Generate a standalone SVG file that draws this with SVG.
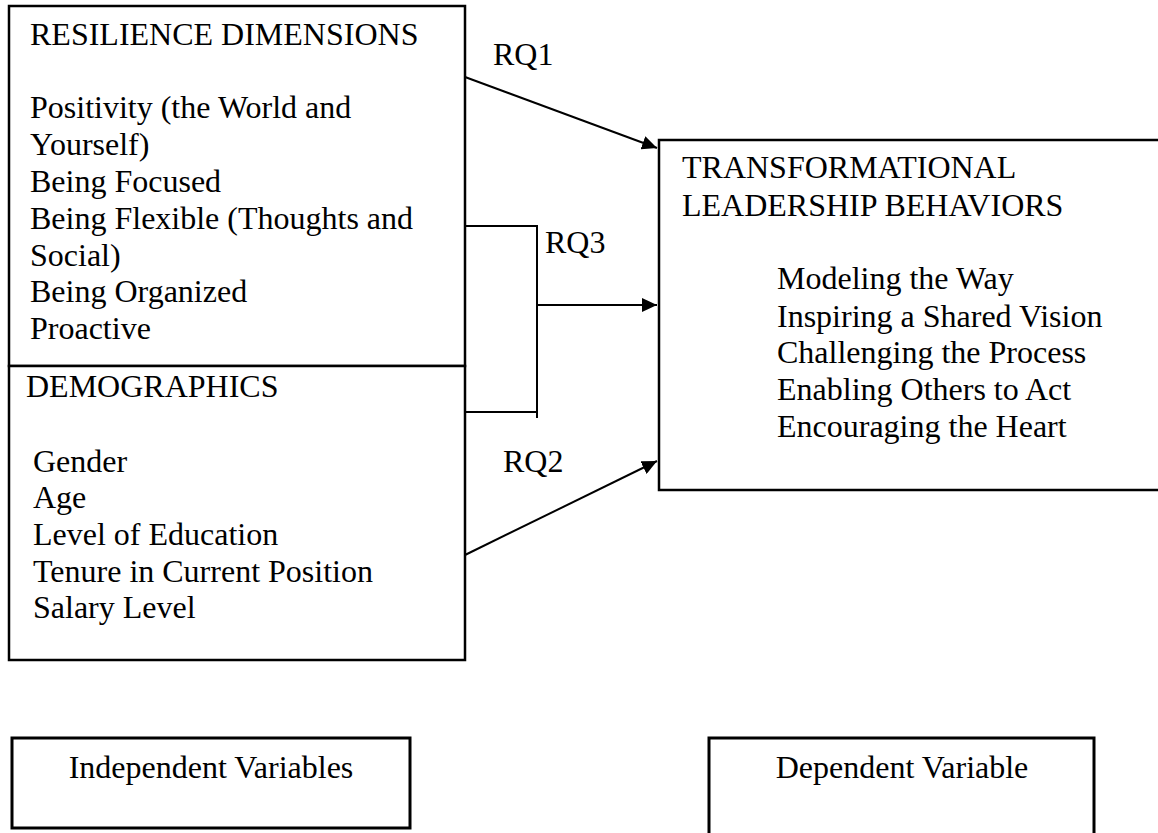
<svg xmlns="http://www.w3.org/2000/svg" width="1158" height="833" viewBox="0 0 1158 833">
<style>
  text { font-size: 32px; fill: #000; }
  .box { fill: #fff; stroke: #000; stroke-width: 2.5; }
  .thick { stroke-width: 3; }
  .conn { fill: none; stroke: #000; stroke-width: 2; }
  .mid { text-anchor: middle; }
</style>
<defs>
  <marker id="arrow" markerUnits="userSpaceOnUse" markerWidth="16" markerHeight="14" refX="15" refY="7" orient="auto">
    <path d="M0,0 L15,7 L0,14 Z" fill="#000"/>
  </marker>
</defs>
<rect width="1158" height="833" fill="#fff"/>
<g font-family="Times New Roman, Liberation Serif, Tinos, DejaVu Serif, serif">

<g id="resilience">
  <rect class="box" x="9" y="6" width="456" height="360"/>
  <text x="30" y="45">RESILIENCE DIMENSIONS</text>
  <text x="30" y="118">Positivity (the World and</text>
  <text x="30" y="155">Yourself)</text>
  <text x="30" y="192">Being Focused</text>
  <text x="30" y="229">Being Flexible (Thoughts and</text>
  <text x="30" y="266">Social)</text>
  <text x="30" y="302">Being Organized</text>
  <text x="30" y="339">Proactive</text>
</g>

<g id="demographics">
  <rect class="box" x="9" y="366" width="456" height="294"/>
  <text x="26" y="397">DEMOGRAPHICS</text>
  <text x="33" y="472">Gender</text>
  <text x="33" y="508">Age</text>
  <text x="33" y="545">Level of Education</text>
  <text x="33" y="582">Tenure in Current Position</text>
  <text x="33" y="618">Salary Level</text>
</g>

<g id="leadership">
  <rect class="box" x="659" y="140" width="520" height="350"/>
  <text x="682" y="178">TRANSFORMATIONAL</text>
  <text x="682" y="216">LEADERSHIP BEHAVIORS</text>
  <text x="777" y="289">Modeling the Way</text>
  <text x="777" y="327">Inspiring a Shared Vision</text>
  <text x="777" y="363">Challenging the Process</text>
  <text x="777" y="400">Enabling Others to Act</text>
  <text x="777" y="437">Encouraging the Heart</text>
</g>

<g id="independent">
  <rect class="box thick" x="12" y="738" width="398" height="90"/>
  <text class="mid" x="211" y="778">Independent Variables</text>
</g>

<g id="dependent">
  <rect class="box thick" x="709" y="738" width="385" height="110"/>
  <text class="mid" x="902" y="778">Dependent Variable</text>
</g>

<g id="connectors">
  <line class="conn" x1="465" y1="77" x2="657" y2="148" marker-end="url(#arrow)"/>
  <path class="conn" d="M465,226 H537 V418 M465,412 H537"/>
  <line class="conn" x1="537" y1="305" x2="657" y2="305" marker-end="url(#arrow)"/>
  <line class="conn" x1="465" y1="555" x2="657" y2="461" marker-end="url(#arrow)"/>
  <text x="493" y="65">RQ1</text>
  <text x="545" y="253">RQ3</text>
  <text x="503" y="472">RQ2</text>
</g>
</g>
</svg>
